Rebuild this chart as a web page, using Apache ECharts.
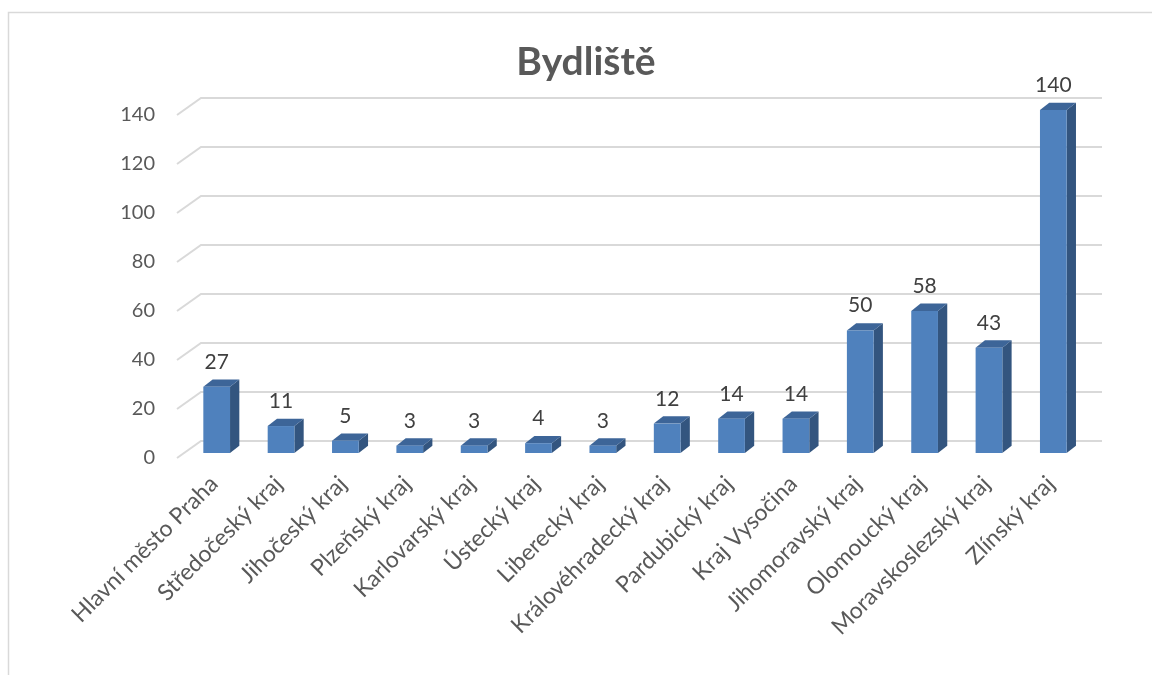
<!DOCTYPE html>
<html>
<head>
<meta charset="utf-8">
<script src="https://cdn.jsdelivr.net/npm/echarts@6/dist/echarts.min.js"></script>
<style>
html,body{margin:0;padding:0;background:#fff;}
#chart{width:1152px;height:675px;}
</style>
</head>
<body>
<div id="chart"></div>
<script>
const categories = ['Hlavní město Praha','Středočeský kraj','Jihočeský kraj','Plzeňský kraj','Karlovarský kraj','Ústecký kraj','Liberecký kraj','Královéhradecký kraj','Pardubický kraj','Kraj Vysočina','Jihomoravský kraj','Olomoucký kraj','Moravskoslezský kraj','Zlínský kraj'];
const values = [27, 11, 5, 3, 3, 4, 3, 12, 14, 14, 50, 58, 43, 140];
const yTicks = [0, 20, 40, 60, 80, 100, 120, 140];
const titleText = 'Bydliště';

const FONT = 'Lato, "Liberation Sans", sans-serif';
const WALL_DX = 24, WALL_DY = -17;
const BAR_OX = 7.5, BAR_OY = -5;
const DEPTH_X = 9.3, DEPTH_Y = -7.3;

const chart = echarts.init(document.getElementById('chart'));
chart.setOption({
  animation: false,
  backgroundColor: '#ffffff',
  graphic: [{
    type: 'rect', silent: true, z: -10,
    shape: {x: 8.5, y: 12.5, width: 1300, height: 800},
    style: {fill: 'none', stroke: '#d9d9d9', lineWidth: 1.5}
  }],
  title: {
    text: titleText, left: 581, textAlign: 'center', top: 38,
    textStyle: {fontFamily: FONT, fontSize: 39, fontWeight: 'bold', color: '#595959'}
  },
  grid: [
    {left: 177, right: 74, top: 115, bottom: 217},
    {left: 182, right: 69, top: 115, bottom: 217}
  ],
  xAxis: [{
    type: 'category', data: categories, gridIndex: 0,
    axisLine: {show: false}, axisTick: {show: false}, splitLine: {show: false},
    axisLabel: {show: false}
  }, {
    type: 'category', data: categories, gridIndex: 1,
    axisLine: {show: false}, axisTick: {show: false}, splitLine: {show: false},
    axisLabel: {interval: 0, rotate: 45, margin: 22, fontFamily: FONT, fontSize: 23, color: '#595959'}
  }],
  yAxis: [{
    type: 'value', min: 0, max: 140, interval: 20, gridIndex: 0,
    axisLine: {show: false}, axisTick: {show: false}, splitLine: {show: false},
    axisLabel: {margin: 22, fontFamily: FONT, fontSize: 20, color: '#595959'}
  }, {
    type: 'value', min: 0, max: 140, interval: 20, gridIndex: 1, show: false
  }],
  series: [
    {
      type: 'custom', z: 1, silent: true,
      data: yTicks.map(v => [0, v]),
      encode: {x: 0, y: 1},
      renderItem: function (params, api) {
        const v = api.value(1);
        const y = api.coord([0, v])[1];
        const x0 = params.coordSys.x;
        const x1 = x0 + params.coordSys.width;
        return {
          type: 'polyline',
          shape: {points: [[x0, y], [x0 + WALL_DX, y + WALL_DY], [x1 + WALL_DX, y + WALL_DY]]},
          style: {stroke: '#d9d9d9', lineWidth: 2, fill: null}
        };
      }
    },
    {
      type: 'custom', z: 5,
      data: values.map((v, i) => [i, v]),
      encode: {x: 0, y: 1},
      renderItem: function (params, api) {
        const i = api.value(0), v = api.value(1);
        const pt = api.coord([i, v]);
        const base = api.coord([i, 0]);
        const band = api.size([1, 0])[0];
        const w = band * 0.415;
        const cx = pt[0] + BAR_OX;
        const left = cx - w / 2, right = cx + w / 2;
        const top = pt[1] + BAR_OY, bottom = base[1] + BAR_OY;
        return {
          type: 'group',
          children: [
            {type: 'polygon', shape: {points: [[right, top], [right + DEPTH_X, top + DEPTH_Y], [right + DEPTH_X, bottom + DEPTH_Y], [right, bottom]]}, style: {fill: '#33557f'}},
            {type: 'polygon', shape: {points: [[left, top], [left + DEPTH_X, top + DEPTH_Y], [right + DEPTH_X, top + DEPTH_Y], [right, top]]}, style: {fill: '#3d6598'}},
            {type: 'rect', shape: {x: left, y: top, width: w, height: bottom - top}, style: {fill: '#4f81bd'}},
            {type: 'text', x: cx, y: top + DEPTH_Y - 17.5, style: {text: String(v), align: 'center', verticalAlign: 'middle', fontFamily: FONT, fontSize: 21, fill: '#404040'}}
          ]
        };
      }
    }
  ]
});
</script>
</body>
</html>
